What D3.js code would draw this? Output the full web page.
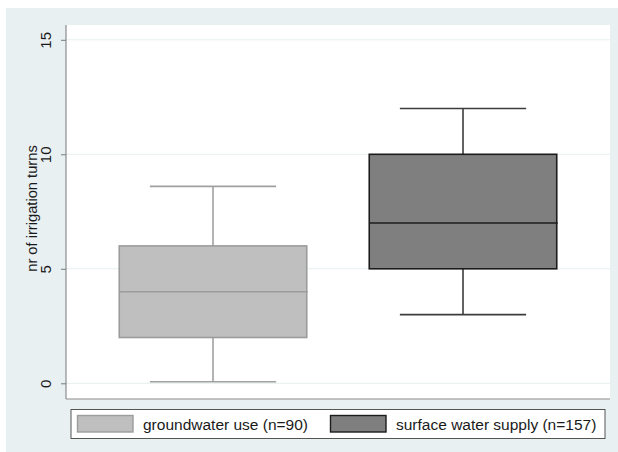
<!DOCTYPE html>
<html>
<head>
<meta charset="utf-8">
<script src="https://cdn.jsdelivr.net/npm/d3@7"></script>
<style>
  html, body { margin: 0; padding: 0; background: #ffffff; }
  svg { display: block; font-family: "Liberation Sans", Arial, sans-serif; }
</style>
</head>
<body>
<svg id="chart" width="618" height="452"></svg>
<script>
// Irrigation turns by water source: box summaries
const groups = ["groundwater use (n=90)", "surface water supply (n=157)"];
const lowerWhisker = [0.07, 3];
const q1 = [2, 5];
const median = [4, 7];
const q3 = [6, 10];
const upperWhisker = [8.6, 12];
const yTicks = [0, 5, 10, 15];
const yTitle = "nr of irrigation turns";

const fills = ["#bfbfbf", "#7f7f7f"];
const strokes = ["#9c9c9c", "#1c1c1c"];
const whiskerStrokes = ["#a0a0a0", "#3c3c3c"];

const svg = d3.select("#chart");

// outer panel
svg.append("rect").attr("x", 6).attr("y", 8).attr("width", 612).attr("height", 444)
  .attr("fill", "#e8f0f2");

const plot = { left: 66, right: 610, top: 25, bottom: 399 };

svg.append("rect").attr("x", plot.left).attr("y", plot.top)
  .attr("width", plot.right - plot.left).attr("height", plot.bottom - plot.top)
  .attr("fill", "#ffffff");

const y = d3.scaleLinear().domain([0, 15]).range([383.3, 39.8]);
const x = d3.scalePoint().domain(groups).range([plot.left, plot.right]).padding(0.588);
const step = x.step();
const boxW = step * 0.75;
const capW = step * 0.505;

// gridlines
svg.append("g").selectAll("line").data(yTicks).join("line")
  .attr("x1", plot.left).attr("x2", plot.right)
  .attr("y1", d => y(d)).attr("y2", d => y(d))
  .attr("stroke", "#e6eff1").attr("stroke-width", 1);

// y axis
const yAxis = d3.axisLeft(y).tickValues(yTicks).tickSize(5).tickPadding(6).tickFormat(d3.format("d"));
const gy = svg.append("g").attr("transform", `translate(${plot.left},0)`).call(yAxis);
gy.select(".domain").attr("d", `M0,${plot.top}V${plot.bottom}`).attr("stroke", "#8c8c8c").attr("stroke-width", 1.2);
gy.selectAll(".tick line").attr("stroke", "#7a7a7a");
gy.selectAll(".tick text")
  .attr("font-size", 15).attr("fill", "#1a1a1a")
  .attr("text-anchor", "middle")
  .attr("x", null).attr("dy", null)
  .attr("transform", "translate(-15.5,0) rotate(-90)");

// bottom axis line
svg.append("line").attr("x1", plot.left).attr("x2", plot.right)
  .attr("y1", plot.bottom).attr("y2", plot.bottom)
  .attr("stroke", "#8c8c8c").attr("stroke-width", 1.2);

// axis title
svg.append("text")
  .attr("transform", `translate(36.5,208.5) rotate(-90)`)
  .attr("text-anchor", "middle").attr("font-size", 14.7).attr("fill", "#1a1a1a")
  .text(yTitle);

// boxes
const data = groups.map((g, i) => ({
  g, i, lo: lowerWhisker[i], q1: q1[i], med: median[i], q3: q3[i], hi: upperWhisker[i]
}));

const box = svg.append("g").selectAll("g").data(data).join("g");

// whiskers
box.append("line")
  .attr("x1", d => x(d.g)).attr("x2", d => x(d.g))
  .attr("y1", d => y(d.q3)).attr("y2", d => y(d.hi))
  .attr("stroke", d => whiskerStrokes[d.i]).attr("stroke-width", 1.6);
box.append("line")
  .attr("x1", d => x(d.g)).attr("x2", d => x(d.g))
  .attr("y1", d => y(d.q1)).attr("y2", d => y(d.lo))
  .attr("stroke", d => whiskerStrokes[d.i]).attr("stroke-width", 1.6);
box.selectAll(".cap").data(d => [d.lo, d.hi].map(v => ({ v, d }))).join("line")
  .attr("class", "cap")
  .attr("x1", c => x(c.d.g) - capW / 2).attr("x2", c => x(c.d.g) + capW / 2)
  .attr("y1", c => y(c.v)).attr("y2", c => y(c.v))
  .attr("stroke", c => whiskerStrokes[c.d.i]).attr("stroke-width", 1.6);

box.append("rect")
  .attr("x", d => x(d.g) - boxW / 2).attr("width", boxW)
  .attr("y", d => y(d.q3)).attr("height", d => y(d.q1) - y(d.q3))
  .attr("fill", d => fills[d.i]).attr("stroke", d => strokes[d.i]).attr("stroke-width", 1.6);

box.append("line")
  .attr("x1", d => x(d.g) - boxW / 2).attr("x2", d => x(d.g) + boxW / 2 + 1)
  .attr("y1", d => y(d.med)).attr("y2", d => y(d.med))
  .attr("stroke", d => strokes[d.i]).attr("stroke-width", 1.6);

// legend
const legend = svg.append("g");
legend.append("rect").attr("x", 71).attr("y", 409.5).attr("width", 534).attr("height", 29)
  .attr("fill", "#ffffff").attr("stroke", "#555555").attr("stroke-width", 1);

const legendX = [77.5, 330.5];
const item = legend.selectAll("g").data(groups).join("g")
  .attr("transform", (d, i) => `translate(${legendX[i]},0)`);
item.append("rect").attr("x", 0).attr("y", 415.5).attr("width", 55.5).attr("height", 16.5)
  .attr("fill", (d, i) => fills[i]).attr("stroke", (d, i) => strokes[i]).attr("stroke-width", 1.4);
item.append("text").attr("x", 65.5).attr("y", 429.5).attr("font-size", 15.5).attr("fill", "#1a1a1a")
  .text(d => d);
</script>
</body>
</html>
